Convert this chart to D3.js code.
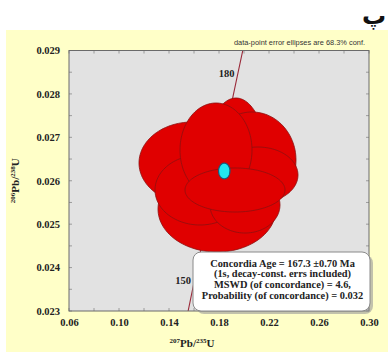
<!DOCTYPE html>
<html>
<head>
<meta charset="utf-8">
<script src="https://cdn.jsdelivr.net/npm/d3@7"></script>
<style>
  html, body { margin: 0; padding: 0; background: #ffffff; }
  svg { display: block; }
</style>
</head>
<body>
<svg id="chart" width="388" height="352"></svg>
<script>
// Axis ticks
const xTicks = [0.06, 0.10, 0.14, 0.18, 0.22, 0.26, 0.30];
const yTicks = [0.023, 0.024, 0.025, 0.026, 0.027, 0.028, 0.029];

// Concordia curve (207Pb/235U, 206Pb/238U) at ages in Ma
const concAge = [145, 150, 155, 160, 165, 170, 175, 180, 185];
const concX = [0.153502, 0.159197, 0.164919, 0.170670, 0.176449, 0.182256, 0.188092, 0.193957, 0.199851];
const concY = [0.022748, 0.023542, 0.024336, 0.025131, 0.025926, 0.026722, 0.027519, 0.028316, 0.029114];
const concLabelAges = [150, 160, 170, 180];

// Data-point error ellipses: centre, half-axes (68.3% conf.), error correlation
const ellX   = [0.1584, 0.1784, 0.1936, 0.2064, 0.2112, 0.1824, 0.1648, 0.2008, 0.1776, 0.1928];
const ellY   = [0.026409, 0.025349, 0.026524, 0.026478, 0.026132, 0.026478, 0.025787, 0.025441, 0.026708, 0.025787];
const ellSX  = [0.0424, 0.0472, 0.0240, 0.0352, 0.0320, 0.0144, 0.0360, 0.0280, 0.0288, 0.0400];
const ellSY  = [0.000944, 0.000990, 0.001382, 0.001106, 0.000645, 0.000760, 0.000806, 0.000645, 0.001083, 0.000507];
const ellRho = [0, 0, 0, 0, 0, 0, 0, 0, 0, 0];

// Concordia-age ellipse
const ageX = 0.1842, ageY = 0.026225, ageSX = 0.00456, ageSY = 0.000180, ageRho = 0;

const infoLines = [
  "Concordia Age = 167.3 \u00B10.70 Ma",
  "(1s, decay-const. errs included)",
  "MSWD (of concordance) = 4.6,",
  "Probability (of concordance) = 0.032"
];

const svg = d3.select("#chart");
const serif = "'Liberation Serif', 'Times New Roman', serif";
const sans = "'Liberation Sans', Arial, sans-serif";

const x = d3.scaleLinear().domain([0.06, 0.30]).range([69, 369]);
const y = d3.scaleLinear().domain([0.023, 0.029]).range([311, 50.5]);

// panel backgrounds
svg.append("rect").attr("x", 6).attr("y", 30).attr("width", 382).attr("height", 322).attr("fill", "#ffffc8");
svg.append("text").attr("x", 386).attr("y", 24).attr("text-anchor", "end")
  .attr("font-family", "'DejaVu Sans', sans-serif").attr("font-weight", "bold").attr("font-size", 24)
  .attr("fill", "#111").text("پ");

svg.append("rect").attr("x", x(0.06)).attr("y", y(0.029))
  .attr("width", x(0.30) - x(0.06)).attr("height", y(0.023) - y(0.029))
  .attr("fill", "#e2e2e2");

svg.append("defs").append("clipPath").attr("id", "plotClip").append("rect")
  .attr("x", x(0.06)).attr("y", y(0.029))
  .attr("width", x(0.30) - x(0.06)).attr("height", y(0.023) - y(0.029));

// inner minor ticks
const xMinor = d3.range(0.06, 0.3001, 0.02);
const yMinor = d3.range(0.023, 0.02901, 0.0005);
const tickG = svg.append("g").attr("stroke", "#8a8a8a").attr("stroke-width", 0.8);
xMinor.forEach(v => {
  tickG.append("line").attr("x1", x(v)).attr("x2", x(v)).attr("y1", y(0.023)).attr("y2", y(0.023) - 3);
  tickG.append("line").attr("x1", x(v)).attr("x2", x(v)).attr("y1", y(0.029)).attr("y2", y(0.029) + 3);
});
yMinor.forEach(v => {
  tickG.append("line").attr("x1", x(0.06)).attr("x2", x(0.06) + 3).attr("y1", y(v)).attr("y2", y(v));
  tickG.append("line").attr("x1", x(0.30)).attr("x2", x(0.30) - 3).attr("y1", y(v)).attr("y2", y(v));
});

// axes labels via d3 axes (tick lines hidden)
const xAxis = svg.append("g").attr("transform", `translate(0,${y(0.023)})`)
  .call(d3.axisBottom(x).tickValues(xTicks).tickFormat(d3.format(".2f")).tickSize(0).tickPadding(8));
const yAxis = svg.append("g").attr("transform", `translate(${x(0.06)},0)`)
  .call(d3.axisLeft(y).tickValues(yTicks).tickFormat(d3.format(".3f")).tickSize(0).tickPadding(9));
[xAxis, yAxis].forEach(g => {
  g.select(".domain").remove();
  g.selectAll("text").attr("font-family", serif).attr("font-weight", "bold")
    .attr("font-size", 10.5).attr("fill", "#222");
});

const plot = svg.append("g").attr("clip-path", "url(#plotClip)");

// concordia
const concPts = concAge.map((a, i) => [concX[i], concY[i]]);
plot.append("path").attr("d", d3.line().x(d => x(d[0])).y(d => y(d[1]))(concPts))
  .attr("fill", "none").attr("stroke", "#9a2a3a").attr("stroke-width", 1.1);
concLabelAges.forEach(a => {
  const i = concAge.indexOf(a);
  plot.append("text").attr("x", x(concX[i]) - 2).attr("y", y(concY[i]) - 3)
    .attr("text-anchor", "end").attr("font-family", serif).attr("font-weight", "bold")
    .attr("font-size", 10.5).attr("fill", "#222").text(a);
});

// ellipse outline from centre, half-axes and correlation
function ellipsePath(cx, cy, sx, sy, rho) {
  const pts = d3.range(0, 361, 3).map(deg => {
    const t = deg * Math.PI / 180;
    return [cx + sx * Math.cos(t), cy + sy * (rho * Math.cos(t) + Math.sqrt(1 - rho * rho) * Math.sin(t))];
  });
  return d3.line().x(d => x(d[0])).y(d => y(d[1])).curve(d3.curveLinearClosed)(pts);
}

plot.selectAll("path.ell").data(ellX).join("path").attr("class", "ell")
  .attr("d", (d, i) => ellipsePath(ellX[i], ellY[i], ellSX[i], ellSY[i], ellRho[i]))
  .attr("fill", "#e00000").attr("stroke", "#8c1010").attr("stroke-width", 0.8);

plot.append("path").attr("d", ellipsePath(ageX, ageY, ageSX, ageSY, ageRho))
  .attr("fill", "#22e6f0").attr("stroke", "#1a5a7a").attr("stroke-width", 1.2);

// plot frame
svg.append("rect").attr("x", x(0.06)).attr("y", y(0.029))
  .attr("width", x(0.30) - x(0.06)).attr("height", y(0.023) - y(0.029))
  .attr("fill", "none").attr("stroke", "#6a6a6a").attr("stroke-width", 1);

// axis titles
const xt = svg.append("text").attr("x", 192).attr("y", 347).attr("text-anchor", "middle")
  .attr("font-family", serif).attr("font-weight", "bold").attr("font-size", 11).attr("fill", "#222");
xt.append("tspan").attr("font-size", 7).attr("dy", -4).text("207");
xt.append("tspan").attr("dy", 4).text("Pb/");
xt.append("tspan").attr("font-size", 7).attr("dy", -4).text("235");
xt.append("tspan").attr("dy", 4).text("U");

const yt = svg.append("text").attr("transform", `translate(19,${(y(0.023) + y(0.029)) / 2}) rotate(-90)`)
  .attr("text-anchor", "middle").attr("font-family", serif).attr("font-weight", "bold")
  .attr("font-size", 11).attr("fill", "#222");
yt.append("tspan").attr("font-size", 7).attr("dy", -4).text("206");
yt.append("tspan").attr("dy", 4).text("Pb/");
yt.append("tspan").attr("font-size", 7).attr("dy", -4).text("238");
yt.append("tspan").attr("dy", 4).text("U");

// note
svg.append("text").attr("x", 365).attr("y", 45).attr("text-anchor", "end")
  .attr("font-family", sans).attr("font-size", 7.4).attr("fill", "#333")
  .text("data-point  error  ellipses are 68.3% conf.");

// result box with shadow
const bx = 193, by = 252, bw = 177, bh = 59;
svg.append("rect").attr("x", bx + 3).attr("y", by + 3).attr("width", bw).attr("height", bh)
  .attr("rx", 8).attr("fill", "#9a9a9a").attr("opacity", 0.6);
svg.append("rect").attr("x", bx).attr("y", by).attr("width", bw).attr("height", bh)
  .attr("rx", 8).attr("fill", "#ffffff").attr("stroke", "#8a8a8a").attr("stroke-width", 1);
infoLines.forEach((t, i) => {
  svg.append("text").attr("x", bx + bw / 2 + 1).attr("y", by + 14.5 + i * 10.8)
    .attr("text-anchor", "middle").attr("font-family", serif).attr("font-weight", "bold")
    .attr("font-size", 10.4).attr("fill", "#222").text(t);
});
</script>
</body>
</html>
